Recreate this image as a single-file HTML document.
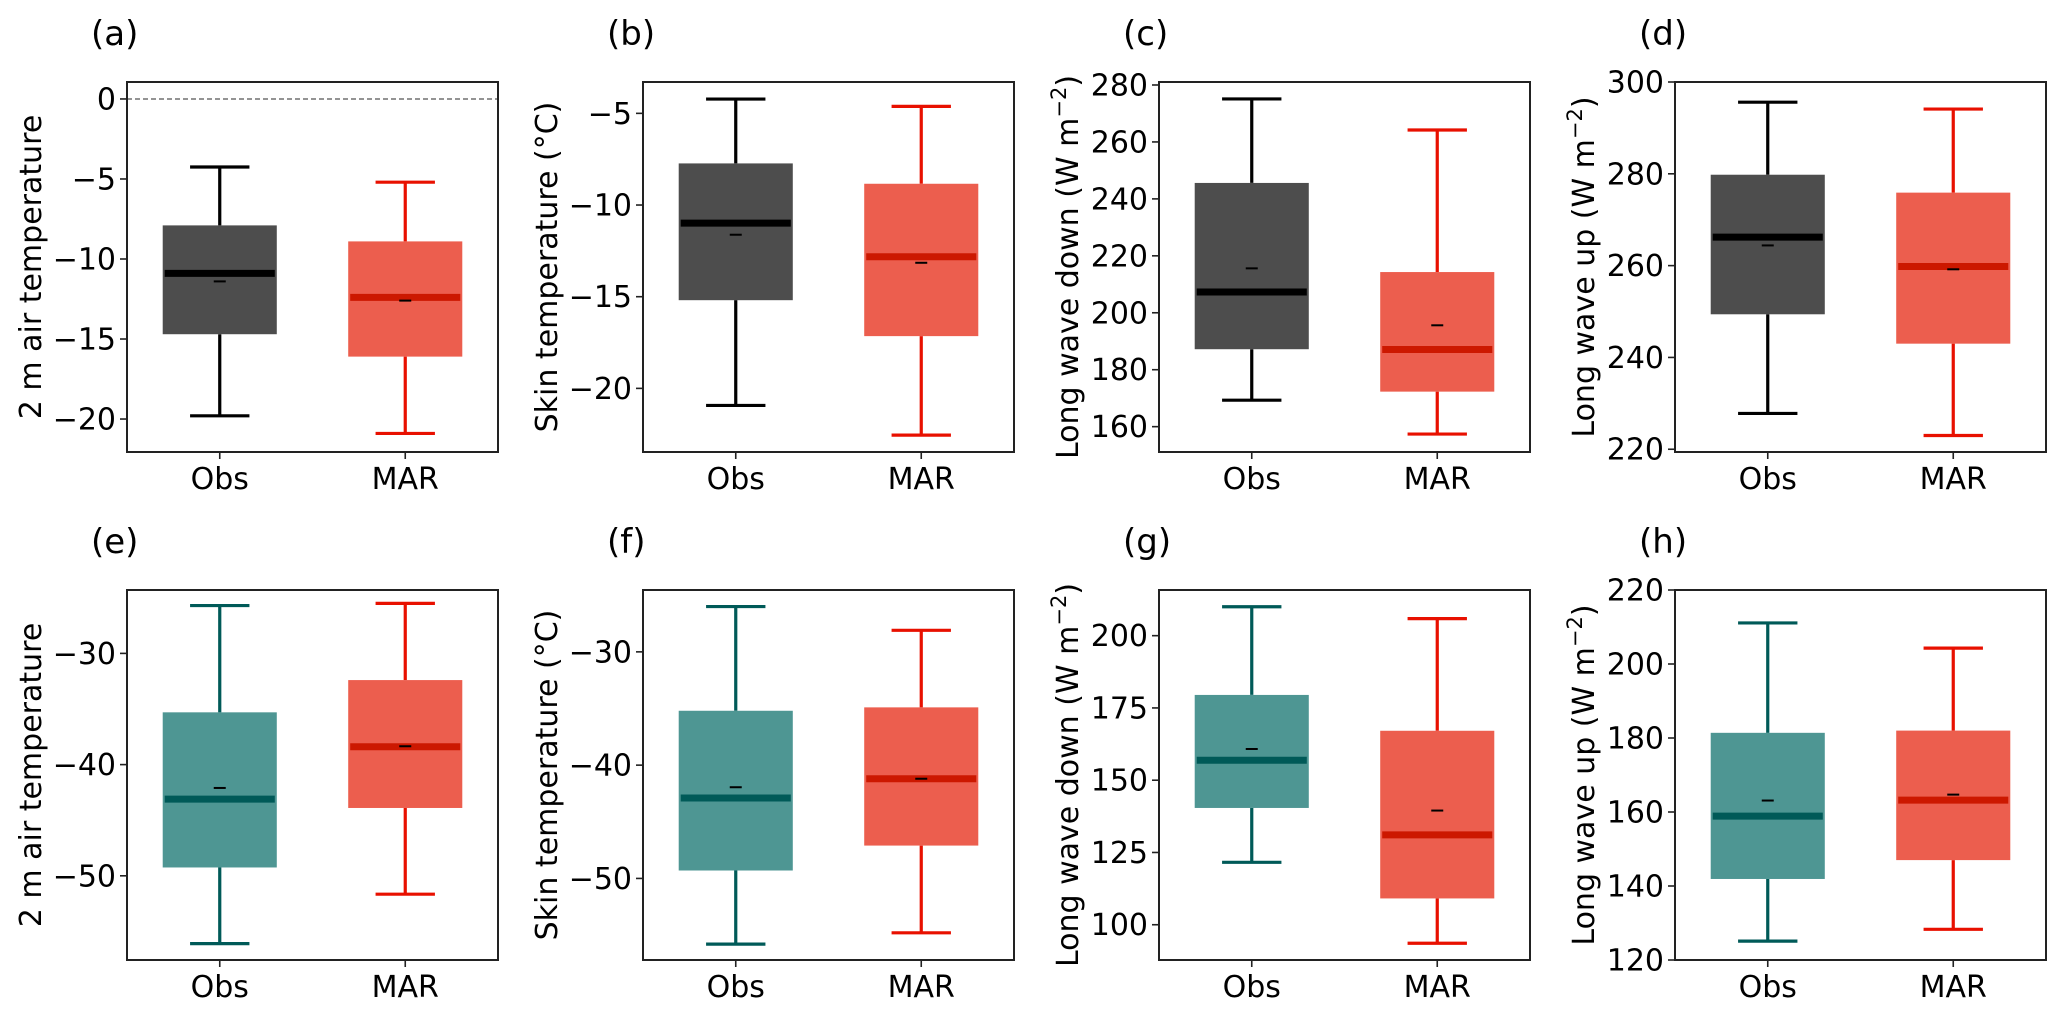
<!DOCTYPE html>
<html><head><meta charset="utf-8">
<style>
html,body{margin:0;padding:0;background:#fff;}
svg{display:block;font-family:"DejaVu Sans","Liberation Sans",sans-serif;}
</style></head>
<body>
<svg id="fig" width="2067" height="1013" viewBox="0 0 2067 1013" xmlns="http://www.w3.org/2000/svg"></svg>
<script>
// categories
const categories = ["Obs", "MAR"];
const panelLetters = ["(a)","(b)","(c)","(d)","(e)","(f)","(g)","(h)"];
const yTitles = ["2 m air temperature","Skin temperature (°C)","Long wave down","Long wave up",
                 "2 m air temperature","Skin temperature (°C)","Long wave down","Long wave up"];
const yUnits = [false,false,true,true,false,false,true,true];
// y-axis ranges
const yMins = [-22.06,-23.47,151.1,219.4,-57.57,-57.2,87.8,120];
const yMaxs = [1.06,-3.29,281.05,300,-24.3,-24.54,215.8,220];
// tick labels
const ticksA = [0,-5,-10,-15,-20];
const ticksB = [-5,-10,-15,-20];
const ticksC = [160,180,200,220,240,260,280];
const ticksD = [220,240,260,280,300];
const ticksE = [-30,-40,-50];
const ticksF = [-30,-40,-50];
const ticksG = [100,125,150,175,200];
const ticksH = [120,140,160,180,200,220];
const tickSets = [ticksA,ticksB,ticksC,ticksD,ticksE,ticksF,ticksG,ticksH];
// Obs series
const obsLow  = [-19.8,-20.93,169.3,227.8,-56.1,-55.8,121.6,125.1];
const obsQ1   = [-14.7,-15.19,187.2,249.4,-49.25,-49.3,140.4,141.9];
const obsMed  = [-10.9,-10.99,207.3,266.2,-43.1,-42.9,156.9,158.9];
const obsQ3   = [-7.9,-7.73,245.6,279.8,-35.3,-35.2,179.5,181.4];
const obsHigh = [-4.25,-4.22,275.1,295.6,-25.7,-26.0,210,211.1];
const obsMean = [-11.4,-11.62,215.6,264.4,-42.1,-41.95,160.8,163.1];
// MAR series
const marLow  = [-20.9,-22.55,157.4,223,-51.65,-54.8,93.6,128.3];
const marQ1   = [-16.1,-17.15,172.3,243.0,-43.9,-47.1,109.1,147.0];
const marMed  = [-12.4,-12.82,187.1,259.8,-38.4,-41.2,131.1,163.2];
const marQ3   = [-8.9,-8.84,214.3,275.9,-32.4,-34.9,167.1,182.0];
const marHigh = [-5.2,-4.62,264.2,294.1,-25.5,-28.1,205.9,204.3];
const marMean = [-12.6,-13.15,195.6,259.2,-38.35,-41.2,139.5,164.7];

const NS = "http://www.w3.org/2000/svg";
const svg = document.getElementById("fig");
function mk(tag, attrs, parent){
  const e = document.createElementNS(NS, tag);
  for (const k in attrs) e.setAttribute(k, attrs[k]);
  (parent||svg).appendChild(e);
  return e;
}
const lefts = [127,643,1159,1675];
const tops = [82,590];
const W = 371, H = 370;
const FS = 30;

for (let p = 0; p < 8; p++) {
  const L = lefts[p % 4], T = tops[Math.floor(p / 4)];
  const g = mk("g", {});
  
  
  const yS = v => T + H - (v - yMins[p]) / (yMaxs[p] - yMins[p]) * H;
  const xS = i => L + (i + 1 - 0.5) / 2 * W;
  const bottomRow = p >= 4;
  const obsFill = bottomRow ? "#4e9693" : "#4d4d4d";
  const obsLine = bottomRow ? "#005a58" : "#000000";
  const series = [
    {low:obsLow,q1:obsQ1,med:obsMed,q3:obsQ3,high:obsHigh,mean:obsMean,fill:obsFill,line:obsLine,medc:obsLine},
    {low:marLow,q1:marQ1,med:marMed,q3:marQ3,high:marHigh,mean:marMean,fill:"#ec5e4e",line:"#e81000",medc:"#cc1800"}
  ];
  if (p === 0) {
    const zl = mk("line",{x1:L,x2:L+W,y1:yS(0),y2:yS(0),stroke:"#555","stroke-width":1.3,"stroke-dasharray":"5,3"},g);
    
    
  }
  series.forEach((s, i) => {
    const cx = xS(i), bw = 0.615 * W / 2, cw = 0.32 * W / 2;
    const bg = mk("g", {}, g);
    
    
    mk("line",{x1:cx,x2:cx,y1:yS(s.high[p]),y2:yS(s.q3[p]),stroke:s.line,"stroke-width":3.2},bg);
    mk("line",{x1:cx,x2:cx,y1:yS(s.q1[p]),y2:yS(s.low[p]),stroke:s.line,"stroke-width":3.2},bg);
    mk("line",{x1:cx-cw/2,x2:cx+cw/2,y1:yS(s.high[p]),y2:yS(s.high[p]),stroke:s.line,"stroke-width":3.2},bg);
    mk("line",{x1:cx-cw/2,x2:cx+cw/2,y1:yS(s.low[p]),y2:yS(s.low[p]),stroke:s.line,"stroke-width":3.2},bg);
    mk("rect",{x:cx-bw/2,y:yS(s.q3[p]),width:bw,height:yS(s.q1[p])-yS(s.q3[p]),fill:s.fill},bg);
    mk("line",{x1:cx-bw/2+2,x2:cx+bw/2-2,y1:yS(s.med[p]),y2:yS(s.med[p]),stroke:s.medc,"stroke-width":7},bg);
    mk("line",{x1:cx-6,x2:cx+6,y1:yS(s.mean[p]),y2:yS(s.mean[p]),stroke:"#000","stroke-width":2},bg);
  });
  const fr = mk("rect",{x:L,y:T,width:W,height:H,fill:"none",stroke:"#222","stroke-width":2},g);
  
  
  tickSets[p].forEach(v => {
    const y = yS(v);
    mk("line",{x1:L-7,x2:L,y1:y,y2:y,stroke:"#222","stroke-width":1.6},g);
    const t = mk("text",{x:L-11,y:y+10.5,"text-anchor":"end","font-size":FS,fill:"#000"},g);
    t.textContent = v < 0 ? "\u2212" + Math.abs(v) : String(v);
    
    
  });
  categories.forEach((c, i) => {
    const x = xS(i);
    mk("line",{x1:x,x2:x,y1:T+H,y2:T+H+7,stroke:"#222","stroke-width":1.6},g);
    const t = mk("text",{x:x,y:T+H+37,"text-anchor":"middle","font-size":FS,fill:"#000"},g);
    t.textContent = c;
    
    
  });
  const ty = mk("text",{x:0,y:0,"text-anchor":"middle","font-size":FS,fill:"#000",
    transform:"translate(" + (L - (p%4>=2 ? 92 : 97) + 11) + "," + (T + H/2) + ") rotate(-90)"},g);
  
  
  ty.appendChild(document.createTextNode(yTitles[p] + (yUnits[p] ? " (W m" : "")));
  if (yUnits[p]) {
    const sup = mk("tspan",{"font-size":21,dy:-12},ty);
    sup.textContent = "\u22122";
    const cl = mk("tspan",{dy:12},ty);
    cl.textContent = ")";
  }
  const pl = mk("text",{x:L-36,y:T-37,"font-size":34,fill:"#000"},g);
  pl.textContent = panelLetters[p];
  
  
}
</script>
</body></html>
